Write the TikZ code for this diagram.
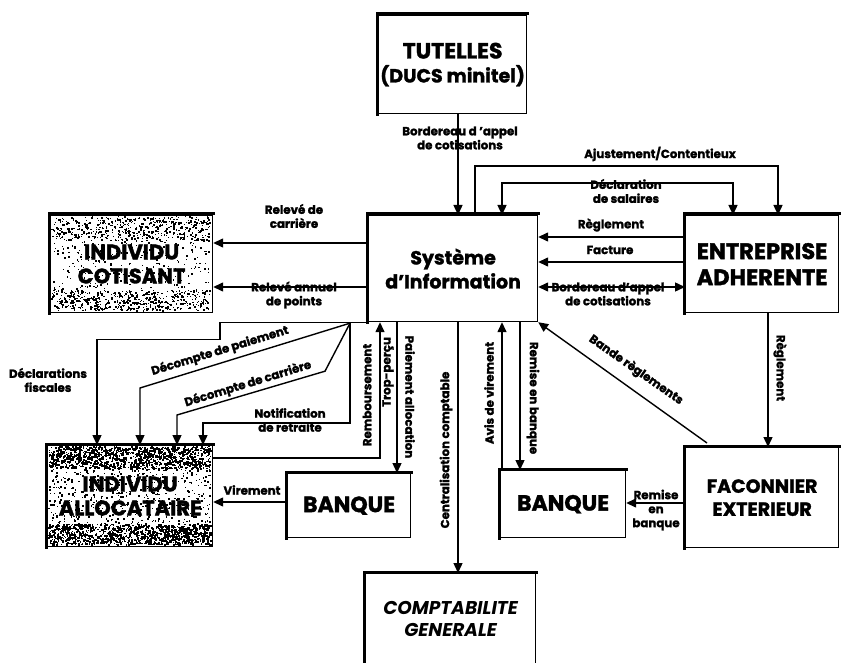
\documentclass[tikz,border=0pt]{standalone}
\usepackage{fontspec}
\setmainfont{Poppins}[BoldFeatures={FakeBold=1.6}]
\usetikzlibrary{arrows.meta,calc}
\begin{document}
\begin{tikzpicture}[x=1pt,y=-1pt,
  box/.style={draw,line width=1.2pt,anchor=north west,align=center,inner sep=0pt,font=\bfseries\fontsize{22}{25}\selectfont},
  lbl/.style={font=\bfseries\fontsize{11.8}{14}\selectfont,align=center,inner sep=0pt},
  conn/.style={line width=1.4pt},
  arr/.style={conn,-{Triangle[length=10pt,width=9pt]}},
  arrb/.style={conn,{Triangle[length=10pt,width=9pt]}-{Triangle[length=10pt,width=9pt]}},
  thick edge/.style={line width=3pt,line cap=rect}
]
\useasboundingbox (0,0) rectangle (841,663);

% speckled fills (denser on the margins, lighter behind the text)
\pgfmathsetseed{4242}
\foreach \i in {1,...,900} {
  \pgfmathsetmacro\rx{48+162*rnd}
  \pgfmathsetmacro\ry{446+98*rnd}
  \pgfmathsetmacro\rs{0.8+1.4*rnd}
  \fill (\rx,\ry) rectangle ++(\rs,\rs);
}
\foreach \y/\h in {446/22,524/20} {
  \foreach \i in {1,...,900} {
    \pgfmathsetmacro\rx{48+162*rnd}
    \pgfmathsetmacro\ry{\y+\h*rnd}
    \pgfmathsetmacro\rs{0.8+1.6*rnd}
    \fill (\rx,\ry) rectangle ++(\rs,\rs);
  }
}
\foreach \i in {1,...,500} {
  \pgfmathsetmacro\rx{51+159*rnd}
  \pgfmathsetmacro\ry{216+94*rnd}
  \pgfmathsetmacro\rs{0.8+1.2*rnd}
  \fill (\rx,\ry) rectangle ++(\rs,\rs);
}
\foreach \y/\h in {216/24,290/20} {
  \foreach \i in {1,...,400} {
    \pgfmathsetmacro\rx{51+159*rnd}
    \pgfmathsetmacro\ry{\y+\h*rnd}
    \pgfmathsetmacro\rs{0.8+1.3*rnd}
    \fill (\rx,\ry) rectangle ++(\rs,\rs);
  }
}

% boxes
\node[box,minimum width=148pt,minimum height=98pt] (tut) at (378,15) {TUTELLES\\[-1pt]{\fontsize{19}{23}\selectfont(DUCS minitel)}};
\node[box,minimum width=169pt,minimum height=106pt,font=\bfseries\fontsize{19}{24}\selectfont] (si) at (368,215) {Système\\d'Information};
\node[box,minimum width=153pt,minimum height=97pt,font=\bfseries\fontsize{22.5}{26}\selectfont] (ent) at (685,215) {ENTREPRISE\\ADHERENTE};
\node[box,minimum width=153pt,minimum height=100pt,font=\bfseries\fontsize{19}{23}\selectfont] (fac) at (685,447) {FACONNIER\\EXTERIEUR};
\node[box,minimum width=125pt,minimum height=67pt] (bqr) at (500,470) {BANQUE};
\node[box,minimum width=123pt,minimum height=64pt] (bql) at (287,473) {BANQUE};
\node[box,minimum width=165pt,minimum height=101pt,font=\bfseries\fontsize{21}{24}\selectfont] (all) at (47,445) {INDIVIDU\\ALLOCATAIRE};
\node[box,minimum width=162pt,minimum height=97pt,font=\bfseries\fontsize{21}{24}\selectfont] (cot) at (50,215) {INDIVIDU\\COTISANT};
\node[box,minimum width=170pt,minimum height=90pt,font=\bfseries\itshape\fontsize{18.5}{22}\selectfont] (cpt) at (365,573) {COMPTABILITE\\GENERALE};

\foreach \n in {tut,si,ent,fac,bqr,bql,all,cot,cpt}
  \draw[thick edge] ($(\n.south west)+(-1,0)$) -- ($(\n.north west)+(-1,-1)$) -- ($(\n.north east)+(0,-1)$);

% connectors
\draw[arr] ($(tut.south west)+(80,0)$) -- ($(si.north west)+(90,0)$);
\draw[arr] ($(si.north west)+(107,0)$) |- ($(ent.north west)+(93,-49)$) -- ($(ent.north west)+(93,0)$);
\draw[arrb] ($(si.north west)+(134,0)$) |- ($(ent.north west)+(48,-32)$) -- ($(ent.north west)+(48,0)$);
\draw[arr] ($(ent.north west)+(0,22)$) -- ($(si.north east)+(0,22)$);
\draw[arr] ($(ent.north west)+(0,47)$) -- ($(si.north east)+(0,47)$);
\draw[arrb] ($(ent.north west)+(0,72)$) -- ($(si.north east)+(0,72)$);
\draw[arr] ($(si.north west)+(0,28)$) -- ($(cot.north east)+(0,28)$);
\draw[arr] ($(si.north west)+(0,72)$) -- ($(cot.north east)+(0,72)$);

\coordinate (fan) at ($(si.south west)+(-18,1)$);
\draw[arr] (si.south west) -- ++(-148,0) -- ++(0,17) -| ($(all.north west)+(50,0)$);
\draw[arr] (fan) -- ($(all.north west)+(93,-57)$) -- ($(all.north west)+(93,0)$);
\draw[arr] (fan) -- ($(fan)+(-25,48)$) -- ($(all.north west)+(130,-30)$) -- ($(all.north west)+(130,0)$);
\draw[arr] (fan) |- ($(all.north west)+(156,-22)$) -- ($(all.north west)+(156,0)$);

\draw[arr] ($(all.north east)+(0,13)$) -| ($(si.south west)+(12,0)$);
\draw[arr] ($(si.south west)+(29,0)$) -- ($(bql.north west)+(110,0)$);
\draw[arr] ($(si.south west)+(90,0)$) -- ($(cpt.north west)+(93,0)$);
\draw[arr] ($(bqr.north west)+(2,0)$) -- ($(si.south west)+(134,0)$);
\draw[arr] ($(si.south west)+(152,0)$) -- ($(bqr.north west)+(20,0)$);
\draw[arr] ($(fac.north west)+(22,-4)$) -- (si.south east);
\draw[arr] ($(ent.south west)+(83,0)$) -- ($(fac.north west)+(83,0)$);
\draw[arr] ($(fac.north west)+(0,56)$) -- ($(bqr.north east)+(0,33)$);
\draw[arr] ($(bql.north west)+(0,29)$) -- ($(all.north east)+(0,57)$);

% labels
\node[lbl] (l1) at (460,138) {Bordereau d 'appel\\de cotisations};
\node[lbl] (l2) at (660,154) {Ajustement/Contentieux};
\node[lbl] (l3) at (626,191) {Déclaration\\de salaires};
\node[lbl] (l4) at (611,225) {Règlement};
\node[lbl] (l5) at (610,250) {Facture};
\node[lbl] (l6) at (608,294) {Bordereau d'appel\\de cotisations};
\node[lbl] (l7) at (294,216) {Relevé de\\carrière};
\node[lbl] (l8) at (294,295) {Relevé annuel\\de points};
\node[lbl] (l9) at (48,380) {Déclarations\\fiscales};
\node[lbl,rotate=17] (l10) at (220,351) {Décompte de paiement};
\node[lbl,rotate=17] (l11) at (248,384) {Décompte de carrière};
\node[lbl] (l12) at (290,420) {Notification\\de retraite};
\node[lbl,rotate=90] (l13) at (367,395) {Remboursement};
\node[lbl,rotate=90] (l14) at (388,372) {Trop-perçu};
\node[lbl,rotate=-90] (l15) at (410,397) {Paiement allocation};
\node[lbl] (l16) at (252,490) {Virement};
\node[lbl,rotate=90] (l17) at (446,450) {Centralisation comptable};
\node[lbl,rotate=90] (l18) at (489,393) {Avis de virement};
\node[lbl,rotate=-90] (l19) at (533,398) {Remise en banque};
\node[lbl,rotate=-35] (l20) at (636,370) {Bande règlements};
\node[lbl,rotate=-90] (l21) at (780,368) {Règlement};
\node[lbl] (l22) at (656,510) {Remise\\en\\banque};
\end{tikzpicture}
\end{document}
